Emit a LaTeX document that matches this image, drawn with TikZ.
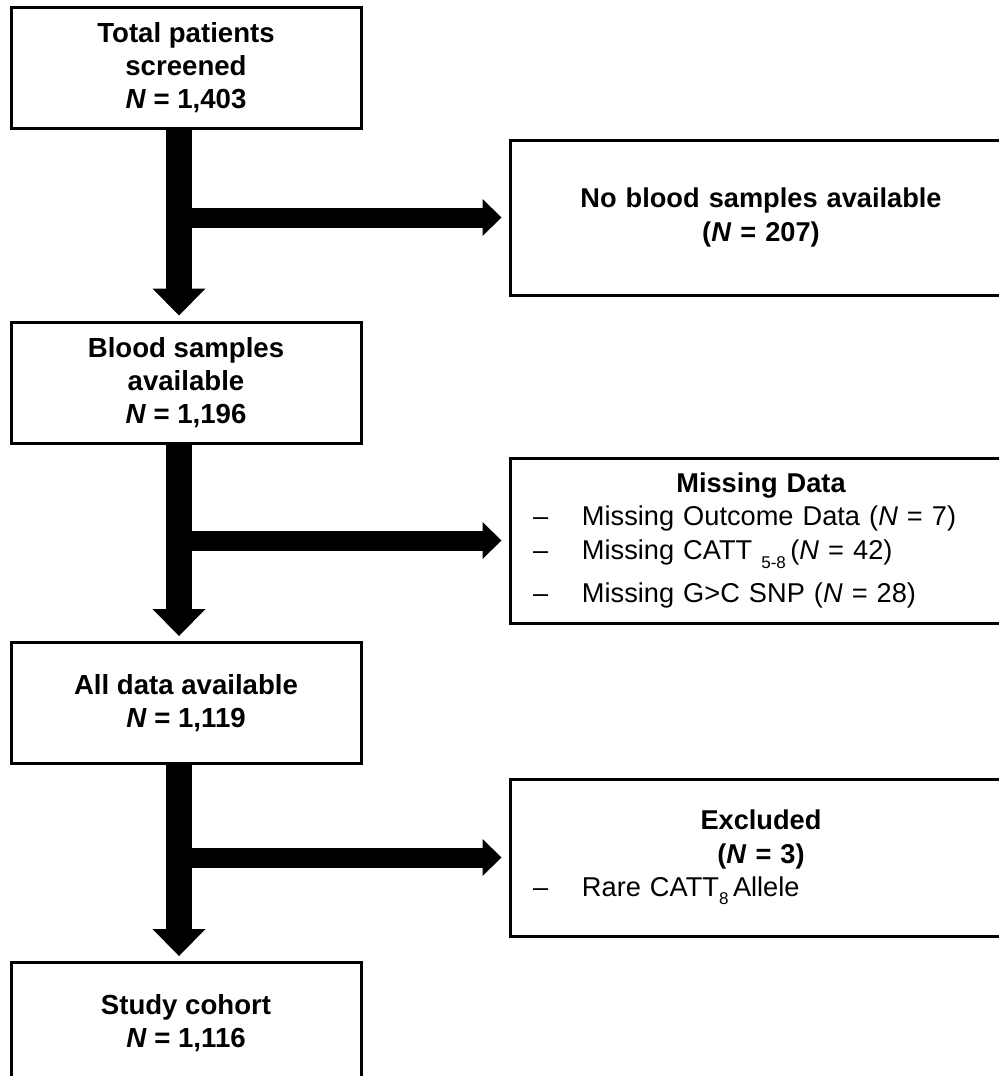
\documentclass[tikz,border=0pt]{standalone}
\usepackage{fontspec}
\setmainfont{Liberation Sans}
\usetikzlibrary{arrows.meta}

\begin{document}
\begin{tikzpicture}
[x=0.5pt,y=-0.5pt,
  stagebox/.style={shape=rectangle,draw,line width=1.5pt,minimum width=175pt,
    minimum height=60.5pt,align=center,font=\fontsize{13.8}{16.5}\selectfont\bfseries},%
  sidebox/.style={shape=rectangle,draw,line width=1.5pt,inner xsep=11.5pt,
    text width=228pt,font=\fontsize{13.6}{16.8}\selectfont,
    execute at begin node=\setlength{\parindent}{0pt}},%
  downarrow/.style={line width=13pt,shorten >=2.5pt,
    -{Triangle[width=26.5pt,length=13.5pt,line width=0pt]}},%
  sidearrow/.style={line width=10pt,shorten >=3.5pt,
    -{Triangle[width=18.5pt,length=9.5pt,line width=0pt]}}]
\useasboundingbox (0,0) rectangle (999,1076);
\clip (0,0) rectangle (999,1076);
%% boxes on the main path
\foreach \nodename/\y/\boxtext in {total/67.5/{Total patients\\ screened\\ \textit{N} = 1,403},
  blood/382.5/{Blood samples\\ available\\ \textit{N} = 1,196},
  alldata/703/{All data available\\ \textit{N} = 1,119},
  cohort/1023/{Study cohort\\ \textit{N} = 1,116}} {
  \node (\nodename) at (186,\y) [stagebox] {\boxtext};
}
%% boxes to the side
\node (noblood) at (761,217.5) [sidebox,minimum height=77.5pt]
  {{\centering\bfseries No blood samples available\\ (\textit{N} = 207)\par}};
\node (missing) at (761,540.5) [sidebox,minimum height=82.5pt]
  {{\centering\bfseries Missing Data\par}
   \makebox[24.5pt][l]{--}Missing Outcome Data (\textit{N} = 7)\par
   \makebox[24.5pt][l]{--}Missing CATT \raisebox{-4.5pt}{\fontsize{8.5}{10}\selectfont 5-8}\,(\textit{N} = 42)\par
   \vspace{5pt}
   \makebox[24.5pt][l]{--}Missing G>C SNP (\textit{N} = 28)\par};
\node (excluded) at (761,857.5) [sidebox,minimum height=78.5pt]
  {{\centering\bfseries Excluded\\ (\textit{N} = 3)\par}
   \makebox[24.5pt][l]{--}Rare CATT\raisebox{-4pt}{\fontsize{8.5}{10}\selectfont 8}\,Allele\par};
%% arrows
\coordinate (spine) at (179,0);
\path
\foreach \startnode/\endnode in {total/blood, blood/alldata, alldata/cohort} {
  (\startnode.south -| spine) edge[downarrow] (\endnode.north -| spine)
};
\path
\foreach \endnode in {noblood, missing, excluded} {
  (spine |- \endnode.west) edge[sidearrow] (\endnode.west)
};
\end{tikzpicture}
\end{document}
